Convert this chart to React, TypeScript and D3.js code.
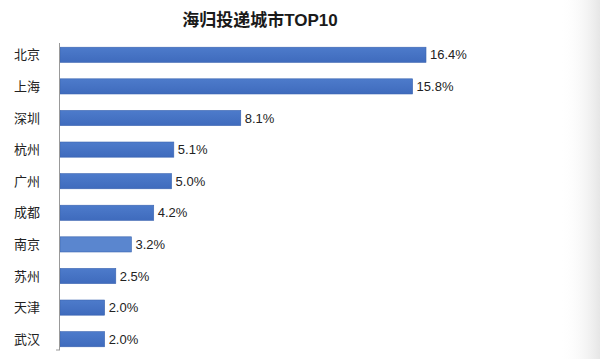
import React from 'react';
import * as d3 from 'd3';

const width = 600;
const height = 359;

const cities = ['北京', '上海', '深圳', '杭州', '广州', '成都', '南京', '苏州', '天津', '武汉'];
const shares = [16.4, 15.8, 8.1, 5.1, 5.0, 4.2, 3.2, 2.5, 2.0, 2.0];
const title = '海归投递城市TOP10';

const axisX = 60;
const top = 39;
const bottom = 355;

const x = d3.scaleLinear().domain([0, 16.4]).range([axisX, 426]);
const y = d3.scaleBand<string>().domain(cities).range([top, bottom]).paddingInner(0.52).paddingOuter(0.26);

const cjk = '"Noto Sans CJK SC", "Liberation Sans", sans-serif';
const latin = '"Liberation Sans", "Noto Sans CJK SC", sans-serif';

export default function App() {
  return (
    <svg
      width={width}
      height={height}
      style={{ position: 'absolute', left: 0, top: 0, background: '#fff' }}
    >
      <defs>
        <linearGradient id="barFill" x1="0" y1="0" x2="0" y2="1">
          <stop offset="0" stopColor="#4d7bcb" />
          <stop offset="1" stopColor="#3f6bbd" />
        </linearGradient>
        <linearGradient id="edge" x1="0" y1="0" x2="1" y2="0">
          <stop offset="0" stopColor="#fff" stopOpacity="0" />
          <stop offset="1" stopColor="#e6e6e6" stopOpacity="1" />
        </linearGradient>
      </defs>
      <rect x={560} y={0} width={40} height={height} fill="url(#edge)" />
      <text
        x={260}
        y={26}
        textAnchor="middle"
        fontFamily={latin}
        fontWeight="bold"
        fontSize={17}
        fill="#1a1a1a"
      >
        {title}
      </text>
      {cities.map((c, i) => {
        const yy = y(c)!;
        const bw = y.bandwidth();
        return (
          <g key={c}>
            <text
              x={14}
              y={yy + bw / 2}
              dy="0.36em"
              fontFamily={cjk}
              fontSize={13}
              fill="#222"
            >
              {c}
            </text>
            <rect
              x={x(0)}
              y={yy}
              width={x(shares[i]) - x(0)}
              height={bw}
              fill={c === '南京' ? '#5a86cf' : 'url(#barFill)'}
              stroke="#3a64b0"
              strokeWidth={0.6}
            />
            <text
              x={x(shares[i]) + 4}
              y={yy + bw / 2}
              dy="0.36em"
              fontFamily={latin}
              fontSize={13}
              fill="#222"
            >
              {shares[i].toFixed(1) + '%'}
            </text>
          </g>
        );
      })}
      <line x1={axisX - 0.5} x2={axisX - 0.5} y1={top + 4} y2={bottom - 5} stroke="#999" strokeWidth={1} />
      <line x1={axisX - 4} x2={axisX} y1={bottom - 5} y2={bottom - 5} stroke="#999" strokeWidth={1} />
    </svg>
  );
}
